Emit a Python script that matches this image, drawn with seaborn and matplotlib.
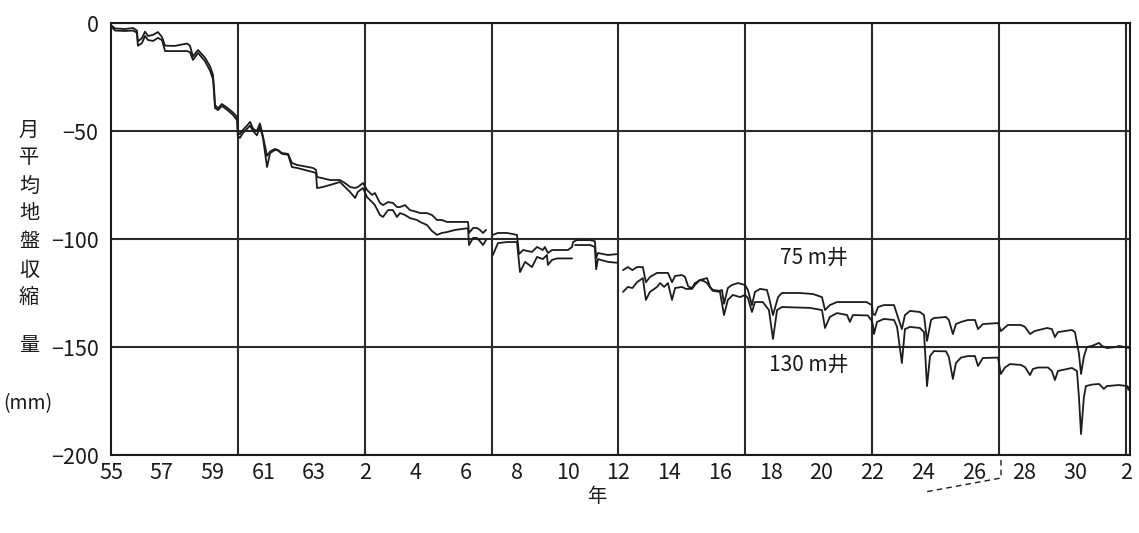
import numpy as np
import pandas as pd
import matplotlib
matplotlib.use("Agg")
import matplotlib.pyplot as plt
from matplotlib.lines import Line2D
import seaborn as sns

nan = np.nan

# ---- 75 m well (upper line); NaN marks a break in the record ----
yr_75 = [1980.00, 1980.16, 1980.55, 1980.87, 1981.02, 1981.06, 1981.22, 1981.34, 1981.46, 1981.66,
         1981.85, 1982.01, 1982.13, 1982.52, 1983.00, 1983.11, 1983.23, 1983.43, 1983.70, 1983.90,
         1984.02, 1984.06, 1984.10, 1984.22, 1984.37, 1984.61, 1984.81, 1984.97, 1985.00, 1985.08,
         1985.20, 1985.36, 1985.48, 1985.60, 1985.75, 1985.87, 1985.99, 1986.15, 1986.27, 1986.46,
         1986.58, 1986.74, 1986.98, 1987.13, 1987.33, 1987.96, 1988.08, 1988.12, 1988.32, 1988.63,
         1989.02, 1989.22, 1989.42, 1989.62, 1989.73, 1989.93, 1990.09, 1990.29, 1990.40, 1990.60,
         1990.72, 1990.92, 1991.11, 1991.27, 1991.39, 1991.59, 1991.78, 1992.06, 1992.18, 1992.45,
         1992.65, 1992.85, 1993.04, 1993.24, 1993.56, 1994.07, 1994.11, 1994.27, 1994.42, 1994.54,
         1994.66, 1994.78, nan,
         1995.05, 1995.25, 1995.61, 1996.00, 1996.08, 1996.24, 1996.59, 1996.79, 1997.02, 1997.10,
         1997.22, 1997.38, 1997.58, 1998.01, 1998.17, 1998.21, 1998.36, 1998.88, 1999.07, 1999.12,
         1999.19, 1999.59, 1999.94, nan,
         2000.18, 2000.37, 2000.55, 2000.73, 2000.96, 2001.08, 2001.24, 2001.52, 2001.95, 2002.11,
         2002.23, 2002.50, 2002.62, 2002.75, 2002.90, 2003.01, 2003.21, 2003.49, 2003.61, 2003.72,
         2004.00, 2004.08, 2004.16, 2004.31, 2004.47, 2004.71, 2004.99, 2005.10, 2005.26, 2005.38,
         2005.58, 2005.85, 2005.93, 2006.09, 2006.29, 2006.44, 2007.15, 2007.67, 2008.02, 2008.14,
         2008.33, 2008.61, 2009.24, 2009.79, 2009.83, 2009.99, 2010.03, 2010.11, 2010.23, 2010.46,
         2010.86, 2011.05, 2011.17, 2011.29, 2011.49, 2011.88, 2012.04, 2012.16, 2012.32, 2012.43,
         2012.91, 2013.02, 2013.18, 2013.30, 2013.50, 2013.77, 2014.05, 2014.17, 2014.36, 2014.96,
         2015.07, 2015.35, 2015.86, 2016.02, 2016.22, 2016.41, 2016.89, 2017.08, 2017.20, 2017.32,
         2017.60, 2017.87, 2017.99, 2018.15, 2018.23, 2018.34, 2018.46, 2018.66, 2018.94, 2019.05,
         2019.25, 2019.61, 2019.72, 2020.15]
mm_75 = [-1.0, -2.5, -2.8, -2.3, -3.5, -8.5, -7.0, -4.0, -6.0, -5.5,
         -4.2, -6.5, -10.5, -10.6, -9.5, -10.5, -15.5, -12.5, -16.0, -20.0,
         -24.0, -30.0, -38.0, -39.5, -37.5, -39.5, -41.5, -43.5, -50.5, -51.5,
         -49.5, -47.5, -45.8, -49.0, -50.0, -46.5, -52.5, -61.5, -59.5, -58.3,
         -58.8, -60.2, -60.6, -64.8, -65.7, -67.1, -68.0, -71.3, -71.8, -72.7,
         -72.7, -74.1, -75.9, -76.4, -75.9, -74.1, -77.3, -79.6, -78.7, -83.3,
         -84.3, -82.9, -83.3, -85.2, -85.2, -84.3, -86.6, -87.5, -88.0, -88.0,
         -88.9, -91.2, -91.2, -92.1, -92.1, -92.1, -97.2, -94.9, -94.9, -95.8,
         -97.2, -95.8, nan,
         -98.1, -97.2, -97.2, -98.1, -107.0, -105.1, -106.0, -103.7, -105.1, -103.7,
         -106.5, -105.1, -105.1, -105.1, -103.7, -101.4, -100.5, -100.5, -101.0, -108.8,
         -106.5, -107.4, -107.0, nan,
         -114.4, -113.0, -114.4, -113.0, -113.0, -120.0, -117.6, -115.7, -115.7, -120.0,
         -117.1, -116.7, -117.5, -122.0, -122.7, -120.5, -119.0, -118.1, -122.2, -123.6,
         -124.0, -123.6, -130.0, -122.7, -121.3, -120.4, -121.3, -123.6, -130.6, -124.5,
         -123.1, -123.6, -127.0, -135.2, -126.9, -125.0, -125.0, -125.5, -126.9, -132.9,
         -130.6, -129.2, -129.2, -129.2, -129.6, -130.6, -134.7, -135.2, -131.5, -130.6,
         -130.6, -137.5, -141.7, -135.2, -133.3, -133.8, -135.2, -147.2, -137.5, -136.6,
         -136.1, -137.5, -144.0, -139.4, -138.4, -137.5, -137.5, -141.7, -139.4, -138.9,
         -142.6, -139.8, -139.8, -140.7, -144.0, -142.6, -141.2, -141.7, -145.4, -143.1,
         -142.6, -142.1, -143.1, -153.2, -162.5, -154.6, -150.0, -149.5, -148.1, -149.5,
         -150.5, -150.0, -149.5, -150.5]

# ---- 130 m well (lower line) ----
yr_130 = [1980.00, 1980.16, 1980.55, 1980.87, 1981.02, 1981.06, 1981.22, 1981.34, 1981.46, 1981.66,
          1981.85, 1982.01, 1982.13, 1982.52, 1983.00, 1983.11, 1983.23, 1983.43, 1983.70, 1983.90,
          1984.02, 1984.06, 1984.10, 1984.22, 1984.37, 1984.61, 1984.81, 1984.97, 1985.00, 1985.08,
          1985.20, 1985.36, 1985.48, 1985.60, 1985.75, 1985.87, 1985.99, 1986.15, 1986.27, 1986.46,
          1986.58, 1986.74, 1986.98, 1987.13, 1987.33, 1987.96, 1988.08, 1988.12, 1988.32, 1988.63,
          1989.02, 1989.22, 1989.42, 1989.62, 1989.73, 1989.93, 1990.09, 1990.29, 1990.40, 1990.60,
          1990.72, 1990.92, 1991.11, 1991.27, 1991.39, 1991.59, 1991.78, 1992.06, 1992.18, 1992.45,
          1992.65, 1992.85, 1993.04, 1993.24, 1993.56, 1994.07, 1994.11, 1994.27, 1994.42, 1994.54,
          1994.66, 1994.78, nan,
          1995.05, 1995.25, 1995.61, 1996.00, 1996.12, 1996.32, 1996.59, 1996.79, 1997.02, 1997.18,
          1997.22, 1997.38, 1997.58, 1998.17, nan,
          1998.29, 1998.88, 1999.07, 1999.12, 1999.19, 1999.59, 1999.94, nan,
          2000.18, 2000.37, 2000.55, 2000.73, 2000.96, 2001.08, 2001.24, 2001.52, 2001.64, 2001.80,
          2001.95, 2002.11, 2002.23, 2002.50, 2002.66, 2002.90, 2003.01, 2003.21, 2003.37, 2003.49,
          2003.61, 2003.72, 2004.00, 2004.16, 2004.31, 2004.51, 2004.79, 2004.99, 2005.10, 2005.26,
          2005.38, 2005.69, 2005.93, 2006.09, 2006.25, 2006.44, 2007.55, 2008.02, 2008.14, 2008.33,
          2008.61, 2009.01, 2009.12, 2009.24, 2009.83, 2009.99, 2010.03, 2010.07, 2010.19, 2010.46,
          2010.86, 2010.98, 2011.17, 2011.29, 2011.49, 2011.88, 2012.04, 2012.16, 2012.28, 2012.43,
          2012.91, 2013.02, 2013.18, 2013.30, 2013.50, 2013.77, 2014.05, 2014.17, 2014.36, 2014.96,
          2015.07, 2015.23, 2015.43, 2015.86, 2016.02, 2016.22, 2016.33, 2016.53, 2016.93, 2017.08,
          2017.20, 2017.32, 2017.87, 2018.07, 2018.15, 2018.23, 2018.34, 2018.42, 2018.66, 2018.94,
          2019.13, 2019.25, 2019.72, 2020.05, 2020.10, 2020.15]
mm_130 = [-1.5, -3.5, -3.7, -3.5, -4.5, -10.5, -9.3, -6.0, -7.9, -8.3,
          -6.9, -7.9, -13.0, -13.0, -13.0, -13.5, -17.1, -13.9, -17.6, -22.0,
          -26.0, -32.0, -39.4, -40.3, -38.4, -40.5, -42.6, -45.0, -52.3, -53.2,
          -50.9, -49.0, -47.5, -50.0, -52.0, -48.0, -53.2, -66.7, -60.2, -58.8,
          -59.0, -60.6, -61.0, -66.7, -67.1, -69.0, -69.5, -76.4, -76.0, -75.0,
          -73.6, -75.9, -78.2, -81.0, -78.2, -76.4, -80.6, -82.9, -84.3, -88.9,
          -89.8, -86.6, -86.6, -89.8, -88.0, -88.9, -90.3, -91.2, -92.1, -93.5,
          -96.3, -98.1, -97.2, -96.8, -95.8, -95.0, -102.8, -99.5, -99.5, -101.0,
          -102.8, -100.5, nan,
          -107.4, -101.9, -101.4, -101.4, -115.3, -110.6, -113.0, -108.3, -109.3, -107.4,
          -112.0, -109.7, -109.0, -109.0, nan,
          -102.8, -102.8, -103.7, -114.0, -109.3, -110.6, -111.0, nan,
          -124.5, -122.2, -122.7, -120.0, -118.1, -128.2, -124.5, -122.2, -120.4, -122.2,
          -120.4, -128.2, -122.7, -122.2, -123.1, -123.1, -121.3, -119.0, -119.5, -120.4,
          -122.5, -124.0, -124.5, -135.2, -128.2, -125.9, -126.9, -125.9, -127.3, -133.8,
          -129.2, -129.2, -132.9, -146.3, -132.9, -131.5, -131.9, -132.9, -141.2, -136.1,
          -134.3, -135.2, -138.4, -135.2, -135.4, -138.0, -140.0, -144.0, -138.4, -137.0,
          -137.5, -140.7, -157.4, -141.7, -140.7, -141.2, -143.1, -168.1, -154.2, -151.9,
          -152.0, -154.6, -164.8, -157.4, -154.9, -154.2, -154.2, -158.8, -155.1, -154.9,
          -162.5, -159.5, -157.9, -158.3, -159.3, -163.0, -160.2, -159.5, -159.5, -161.1,
          -165.3, -161.1, -159.7, -161.1, -173.6, -190.3, -173.6, -168.1, -167.4, -167.1,
          -169.4, -168.1, -167.6, -168.1, -169.9, -168.0]

# ---- axis text ----
x_tick_years = list(range(1980, 2021, 2))
x_tick_labels = ["55", "57", "59", "61", "63", "2", "4", "6", "8", "10", "12",
                 "14", "16", "18", "20", "22", "24", "26", "28", "30", "2"]
grid_years = [1985, 1990, 1995, 2000, 2005, 2010, 2015, 2020]
y_ticks = [0, -50, -100, -150, -200]
y_tick_labels = ["0", "−50", "−100", "−150", "−200"]
y_label_chars = list("月平均地盤収縮量")
y_unit = "(mm)"
x_label = "年"
series_labels = ["75 m井", "130 m井"]


def to_frame(years, vals, name):
    df = pd.DataFrame({"year": years, "mm": vals})
    df["seg"] = df["year"].isna().cumsum()
    df = df.dropna()
    df["uid"] = name + "_" + df["seg"].astype(str)
    return df


df = pd.concat([to_frame(yr_75, mm_75, "75"), to_frame(yr_130, mm_130, "130")],
               ignore_index=True)

sns.set_theme(style="white")
plt.rcParams["font.family"] = ["Noto Sans CJK JP", "DejaVu Sans"]

W, H = 1139, 533
fig = plt.figure(figsize=(W / 100, H / 100), dpi=100)
ax = fig.add_axes([111 / W, 1 - 455 / H, (1130 - 111) / W, (455 - 23) / H])

sns.lineplot(data=df, x="year", y="mm", units="uid", estimator=None,
             color="#1c1c1c", linewidth=1.3, ax=ax, legend=False, sort=False)

ax.set_xlim(1980, 2020.16)
ax.set_ylim(-200, 0)
ax.xaxis.remove_overlapping_locs = False
ax.set_xticks(x_tick_years)
ax.set_xticklabels(x_tick_labels)
ax.set_xticks(grid_years, minor=True)
ax.set_yticks(y_ticks)
ax.set_yticklabels(y_tick_labels)
ax.tick_params(axis="both", which="both", length=0, labelsize=15.5, colors="#1a1a1a")
ax.tick_params(axis="x", pad=5)
ax.tick_params(axis="y", pad=9)
ax.grid(False)
ax.xaxis.grid(True, which="minor", color="#2a2a2a", linewidth=1.5)
ax.yaxis.grid(True, which="major", color="#2a2a2a", linewidth=1.5)
ax.set_axisbelow(True)
for s in ax.spines.values():
    s.set_visible(True)
    s.set_color("#1a1a1a")
    s.set_linewidth(1.5)
ax.set_xlabel("")
ax.set_ylabel("")

# series labels
ax.text(2007.7, -108.8, series_labels[0], fontsize=15, ha="center", va="center", color="#1a1a1a")
ax.text(2007.5, -158.3, series_labels[1], fontsize=15, ha="center", va="center", color="#1a1a1a")

# vertical y-axis title, one character per row
char_y = [130, 158, 186, 214, 242, 270, 298, 345]
for ch, py in zip(y_label_chars, char_y):
    fig.text(29 / W, 1 - py / H, ch, fontsize=14.5, ha="center", va="center", color="#1a1a1a")
fig.text(28 / W, 1 - 404 / H, y_unit, fontsize=14, ha="center", va="center", color="#1a1a1a")
fig.text(597 / W, 1 - 497 / H, x_label, fontsize=14, ha="center", va="center", color="#1a1a1a")

# dashed leader line below the axis
fig.add_artist(Line2D([1001 / W, 1001 / W, 925 / W],
                      [1 - 460 / H, 1 - 478 / H, 1 - 492 / H],
                      transform=fig.transFigure, color="#1a1a1a", linewidth=1.0,
                      linestyle=(0, (4, 3))))

fig.savefig("out.png", dpi=100)
